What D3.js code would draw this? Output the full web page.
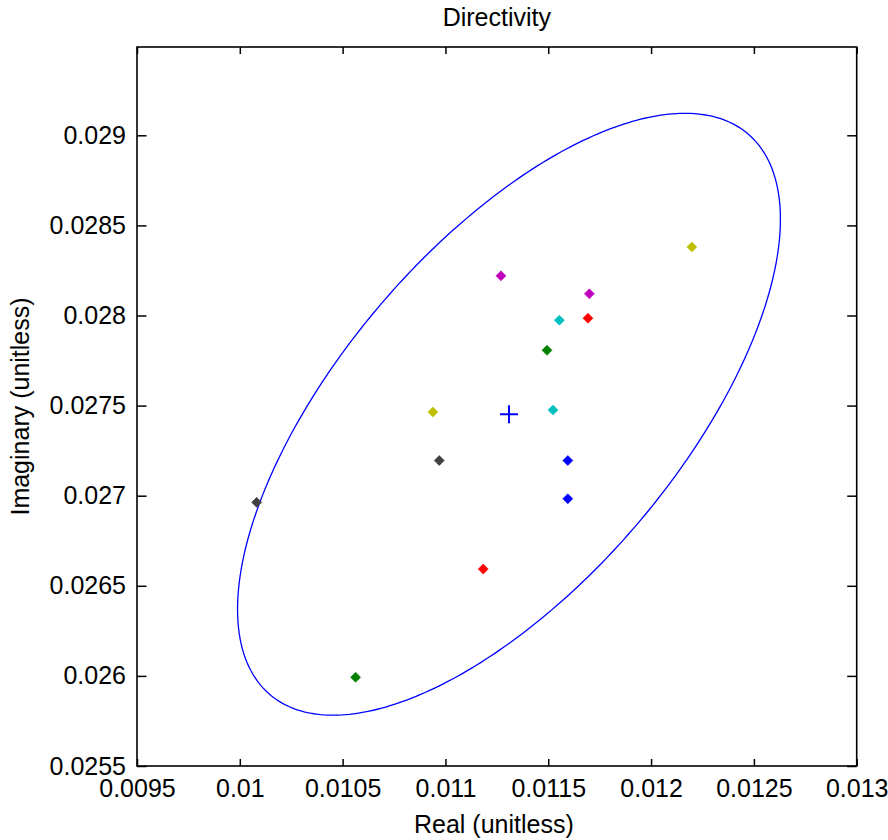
<!DOCTYPE html>
<html>
<head>
<meta charset="utf-8">
<script src="https://cdn.jsdelivr.net/npm/d3@7"></script>
<style>
  html, body { margin: 0; padding: 0; background: #fff; }
  svg { display: block; }
  text { font-family: "Liberation Sans", Arial, sans-serif; fill: #000; }
</style>
</head>
<body>
<svg id="chart" width="888" height="840"></svg>
<script>
// ---- data ----
const xTicks = [0.0095, 0.01, 0.0105, 0.011, 0.0115, 0.012, 0.0125, 0.013];
const xTickLabels = ["0.0095", "0.01", "0.0105", "0.011", "0.0115", "0.012", "0.0125", "0.013"];
const yTicks = [0.0255, 0.026, 0.0265, 0.027, 0.0275, 0.028, 0.0285, 0.029];
const yTickLabels = ["0.0255", "0.026", "0.0265", "0.027", "0.0275", "0.028", "0.0285", "0.029"];
const xDomain = [0.0095, 0.013];
const yDomain = [0.0255, 0.02949];

const pointColors = ["#bf00bf", "#bf00bf", "#00bfbf", "#00bfbf", "#ff0000", "#ff0000",
                     "#008000", "#008000", "#bfbf00", "#bfbf00", "#404040", "#404040",
                     "#0000ff", "#0000ff"];
const pointReal = [0.011270, 0.011700, 0.011554, 0.011523, 0.011693, 0.011184,
                   0.011494, 0.010563, 0.010939, 0.012198, 0.010970, 0.010082,
                   0.011595, 0.011595];
const pointImag = [0.028220, 0.028120, 0.027974, 0.027475, 0.027985, 0.026593,
                   0.027807, 0.025992, 0.027464, 0.028380, 0.027195, 0.026963,
                   0.027195, 0.026983];

const meanPoint = [0.011309, 0.027452];
// ellipse: centre, half-extent along each axis, correlation
const ellipseCenter = [0.011309, 0.027452];
const ellipseExtent = [0.00132, 0.00167];
const ellipseCorr = 0.648;

const titleText = "Directivity";
const xLabel = "Real (unitless)";
const yLabel = "Imaginary (unitless)";

(function () {
// ---- layout ----
const mLeft = 137, mRight = 856.7, mTop = 47, mBottom = 766;
const svg = d3.select("#chart");

const x = d3.scaleLinear().domain(xDomain).range([mLeft, mRight]);
const y = d3.scaleLinear().domain(yDomain).range([mBottom, mTop]);

const fontSize = 25;

// ellipse
const ts = d3.range(0, 361).map(d => d * Math.PI / 180);
const ellPts = ts.map(t => [
  ellipseCenter[0] + ellipseExtent[0] * Math.cos(t),
  ellipseCenter[1] + ellipseExtent[1] * (ellipseCorr * Math.cos(t) + Math.sqrt(1 - ellipseCorr * ellipseCorr) * Math.sin(t))
]);
svg.append("path")
  .attr("d", d3.line().x(d => x(d[0])).y(d => y(d[1]))(ellPts))
  .attr("fill", "none")
  .attr("stroke", "#0000ff")
  .attr("stroke-width", 1.3);

// points (diamonds)
const half = 5;
svg.append("g").selectAll("path")
  .data(pointReal.map((v, i) => ({x: v, y: pointImag[i], c: pointColors[i]})))
  .join("path")
  .attr("d", d => {
    const cx = x(d.x), cy = y(d.y);
    return `M${cx},${cy - half}L${cx + half},${cy}L${cx},${cy + half}L${cx - half},${cy}Z`;
  })
  .attr("fill", d => d.c)
  .attr("stroke", d => d.c)
  .attr("stroke-width", 0.6);

// mean plus
const mx = x(meanPoint[0]), my = y(meanPoint[1]), ps = 9;
svg.append("path")
  .attr("d", `M${mx - ps},${my}H${mx + ps}M${mx},${my - ps}V${my + ps}`)
  .attr("stroke", "#0000ff")
  .attr("stroke-width", 2)
  .attr("fill", "none");

// axes
const gB = svg.append("g").attr("transform", `translate(0,${mBottom})`)
  .call(d3.axisBottom(x).tickValues(xTicks).tickFormat((d, i) => xTickLabels[i]).tickSizeInner(-7).tickSizeOuter(0).tickPadding(13));
const gT = svg.append("g").attr("transform", `translate(0,${mTop})`)
  .call(d3.axisTop(x).tickValues(xTicks).tickFormat("").tickSizeInner(-7).tickSizeOuter(0));
const gL = svg.append("g").attr("transform", `translate(${mLeft},0)`)
  .call(d3.axisLeft(y).tickValues(yTicks).tickFormat((d, i) => yTickLabels[i]).tickSizeInner(-9.5).tickSizeOuter(0).tickPadding(11));
const gR = svg.append("g").attr("transform", `translate(${mRight},0)`)
  .call(d3.axisRight(y).tickValues(yTicks).tickFormat("").tickSizeInner(-9.5).tickSizeOuter(0));

[gB, gT, gL, gR].forEach(g => {
  g.select(".domain").remove();
  g.selectAll(".tick line").attr("stroke", "#000").attr("stroke-width", 1.5);
  g.selectAll("text").attr("font-size", fontSize).attr("font-family", "'Liberation Sans', Arial, sans-serif").attr("fill", "#000");
});

// box
svg.append("rect")
  .attr("x", mLeft).attr("y", mTop)
  .attr("width", mRight - mLeft).attr("height", mBottom - mTop)
  .attr("fill", "none").attr("stroke", "#000").attr("stroke-width", 1.6);

// title and labels
svg.append("text").attr("x", (mLeft + mRight) / 2).attr("y", 26)
  .attr("text-anchor", "middle").attr("font-size", fontSize).text(titleText);
svg.append("text").attr("x", (mLeft + mRight) / 2 - 3).attr("y", 833)
  .attr("text-anchor", "middle").attr("font-size", fontSize).text(xLabel);
svg.append("text").attr("transform", `translate(29,${(mTop + mBottom) / 2}) rotate(-90)`)
  .attr("text-anchor", "middle").attr("font-size", fontSize).text(yLabel);
})();
</script>
</body>
</html>
